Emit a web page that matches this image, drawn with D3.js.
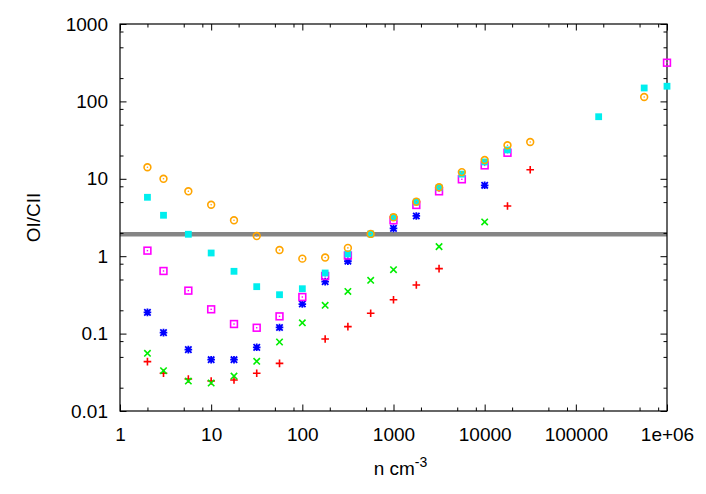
<!DOCTYPE html>
<html>
<head>
<meta charset="utf-8">
<script src="https://cdn.jsdelivr.net/npm/d3@7"></script>
<style>
  body { margin: 0; background: #fff; }
  svg text { font-family: "Liberation Sans", Arial, sans-serif; fill: #000; }
</style>
</head>
<body>
<script>
// density (x) and OI/CII ratio (y) per run
var nRed = [2, 3, 5.62, 10, 17.8, 31.6, 56.2, 178, 316, 562, 1000, 1780, 3160, 17800, 31600];
var ratioRed = [0.0434, 0.0307, 0.0259, 0.0244, 0.0251, 0.0307, 0.0413, 0.085, 0.123, 0.183, 0.274, 0.425, 0.69, 4.45, 13.1];

var nGreen = [2, 3, 5.62, 10, 17.8, 31.6, 56.2, 100, 178, 316, 562, 1000, 3160, 10000];
var ratioGreen = [0.0556, 0.0332, 0.0244, 0.023, 0.0283, 0.0439, 0.0779, 0.138, 0.232, 0.35, 0.488, 0.67, 1.33, 2.77];

var nBlue = [2, 3, 5.62, 10, 17.8, 31.6, 56.2, 100, 178, 316, 1000, 1780, 10000];
var ratioBlue = [0.188, 0.103, 0.062, 0.046, 0.046, 0.0665, 0.12, 0.241, 0.469, 0.86, 2.29, 3.31, 8.24];

var nMagenta = [2, 3, 5.62, 10, 17.8, 31.6, 56.2, 100, 178, 316, 1000, 1780, 3160, 5620, 10000, 17800, 1000000];
var ratioMagenta = [1.18, 0.644, 0.359, 0.206, 0.133, 0.119, 0.167, 0.297, 0.555, 1.02, 2.91, 4.59, 6.89, 9.85, 14.9, 21.7, 316];

var nCyan = [2, 3, 5.62, 10, 17.8, 31.6, 56.2, 100, 178, 316, 562, 1000, 1780, 3160, 5620, 10000, 17800, 178000, 562000, 1000000];
var ratioCyan = [5.77, 3.38, 1.92, 1.1, 0.638, 0.404, 0.318, 0.38, 0.607, 1.07, 1.94, 3.18, 5.01, 7.67, 11.5, 16.5, 23.6, 63.4, 149, 157];

var nOrange = [2, 3, 5.62, 10, 17.8, 31.6, 56.2, 100, 178, 316, 562, 1000, 1780, 3160, 5620, 10000, 17800, 31600, 562000];
var ratioOrange = [14.1, 10.0, 6.89, 4.62, 2.91, 1.82, 1.2, 0.93, 0.96, 1.28, 1.94, 3.18, 5.06, 7.77, 12.2, 17.5, 27.1, 29.9, 114];

var refLevel = 1.92;

var xTicks = [1, 10, 100, 1000, 10000, 100000, 1000000];
var xTickLabels = ["1", "10", "100", "1000", "10000", "100000", "1e+06"];
var yTicks = [0.01, 0.1, 1, 10, 100, 1000];
var yTickLabels = ["0.01", "0.1", "1", "10", "100", "1000"];

var margin = {left: 120, right: 39, top: 24, bottom: 83};
var width = 706 - margin.left - margin.right;
var height = 494 - margin.top - margin.bottom;
var fontSize = "19px";

var xScale = d3.scaleLog().domain([1, 1e6]).range([0, width]);
var yScale = d3.scaleLog().domain([0.01, 1000]).range([height, 0]);

function minorTicks(ticks) {
    var out = [];
    ticks.slice(0, -1).forEach(function (t) {
        [2, 5, 8].forEach(function (m) { out.push(t * m); });
    });
    return out;
}

var svg = d3.select("body").append("svg")
    .attr("width", 706)
    .attr("height", 494);
var chartGroup = svg.append("g").attr("transform", "translate(" + margin.left + "," + margin.top + ")");

// reference level, drawn under the points
chartGroup.append("line")
    .attr("x1", 0).attr("x2", width)
    .attr("y1", yScale(refLevel)).attr("y2", yScale(refLevel))
    .attr("stroke", "#858585")
    .attr("stroke-width", 4.5);

// axes: major + minor ticks, inward, mirrored on all sides
function addAxis(axisFn, transform, ticks, size, labels) {
    var ax = axisFn.tickValues(ticks).tickSizeInner(size).tickSizeOuter(0)
        .tickFormat(function (d, i) { return labels ? labels[i] : ""; });
    var g = chartGroup.append("g").attr("transform", transform).call(ax);
    g.select(".domain").remove();
    g.selectAll("line").attr("stroke", "#000").attr("stroke-width", 1);
    g.selectAll("text").style("font-size", fontSize).style("font-family", "'Liberation Sans', Arial, sans-serif");
    if (!labels) g.selectAll("text").remove();
    return g;
}

var xb = addAxis(d3.axisBottom(xScale), "translate(0," + height + ")", xTicks, -6.5, xTickLabels);
xb.selectAll("text").attr("y", 17).attr("dy", "0.71em");
addAxis(d3.axisBottom(xScale), "translate(0," + height + ")", minorTicks(xTicks), -3.5, null);
addAxis(d3.axisTop(xScale), "translate(0,0)", xTicks, -6.5, null);
addAxis(d3.axisTop(xScale), "translate(0,0)", minorTicks(xTicks), -3.5, null);

var yl = addAxis(d3.axisLeft(yScale), "translate(0,0)", yTicks, -6.5, yTickLabels);
yl.selectAll("text").attr("x", -12);
addAxis(d3.axisLeft(yScale), "translate(0,0)", minorTicks(yTicks), -3.5, null);
addAxis(d3.axisRight(yScale), "translate(" + width + ",0)", yTicks, -6.5, null);
addAxis(d3.axisRight(yScale), "translate(" + width + ",0)", minorTicks(yTicks), -3.5, null);

chartGroup.append("rect")
    .attr("x", 0).attr("y", 0)
    .attr("width", width).attr("height", height)
    .attr("fill", "none")
    .attr("stroke", "#000")
    .attr("stroke-width", 1.2);

// point shapes, gnuplot style
var shapes = {
    plus: function (g, c) {
        g.append("path").attr("d", "M-3.8,0H3.8M0,-3.8V3.8").attr("stroke", c).attr("stroke-width", 1.6).attr("fill", "none");
    },
    cross: function (g, c) {
        g.append("path").attr("d", "M-3.2,-3.2L3.2,3.2M-3.2,3.2L3.2,-3.2").attr("stroke", c).attr("stroke-width", 1.6).attr("fill", "none");
    },
    star: function (g, c) {
        g.append("path").attr("d", "M-3.8,0H3.8M0,-3.8V3.8M-3.2,-3.2L3.2,3.2M-3.2,3.2L3.2,-3.2").attr("stroke", c).attr("stroke-width", 1.8).attr("fill", "none");
    },
    openSquare: function (g, c) {
        g.append("rect").attr("x", -3.4).attr("y", -3.4).attr("width", 6.8).attr("height", 6.8)
            .attr("stroke", c).attr("stroke-width", 1.6).attr("fill", "none");
        g.append("rect").attr("x", -0.7).attr("y", -0.7).attr("width", 1.4).attr("height", 1.4).attr("fill", c);
    },
    fillSquare: function (g, c) {
        g.append("rect").attr("x", -3.4).attr("y", -3.4).attr("width", 6.8).attr("height", 6.8).attr("fill", c);
    },
    openCircle: function (g, c) {
        g.append("circle").attr("r", 3.4).attr("stroke", c).attr("stroke-width", 1.6).attr("fill", "none");
        g.append("circle").attr("r", 0.8).attr("fill", c);
    }
};

var series = [
    {n: nRed, v: ratioRed, color: "#ff0000", shape: "plus"},
    {n: nGreen, v: ratioGreen, color: "#00ee00", shape: "cross"},
    {n: nBlue, v: ratioBlue, color: "#0000ff", shape: "star"},
    {n: nMagenta, v: ratioMagenta, color: "#ff00ff", shape: "openSquare"},
    {n: nCyan, v: ratioCyan, color: "#00eeee", shape: "fillSquare"},
    {n: nOrange, v: ratioOrange, color: "#ffa500", shape: "openCircle"}
];

series.forEach(function (s) {
    var pts = s.n.map(function (x, i) { return {x: x, y: s.v[i]}; });
    chartGroup.append("g").selectAll("g")
        .data(pts)
        .enter().append("g")
        .attr("transform", function (d) { return "translate(" + xScale(d.x) + "," + yScale(d.y) + ")"; })
        .each(function () { shapes[s.shape](d3.select(this), s.color); });
});

// axis titles
svg.append("text")
    .attr("transform", "translate(40," + (margin.top + height / 2) + ") rotate(-90)")
    .attr("text-anchor", "middle")
    .style("font-size", fontSize)
    .text("OI/CII");

var xt = svg.append("text")
    .attr("x", margin.left + width / 2 + 7)
    .attr("y", 475)
    .attr("text-anchor", "middle")
    .style("font-size", fontSize);
xt.append("tspan").text("n cm");
xt.append("tspan").attr("dy", -8).style("font-size", "14px").text("-3");
</script>
</body>
</html>
